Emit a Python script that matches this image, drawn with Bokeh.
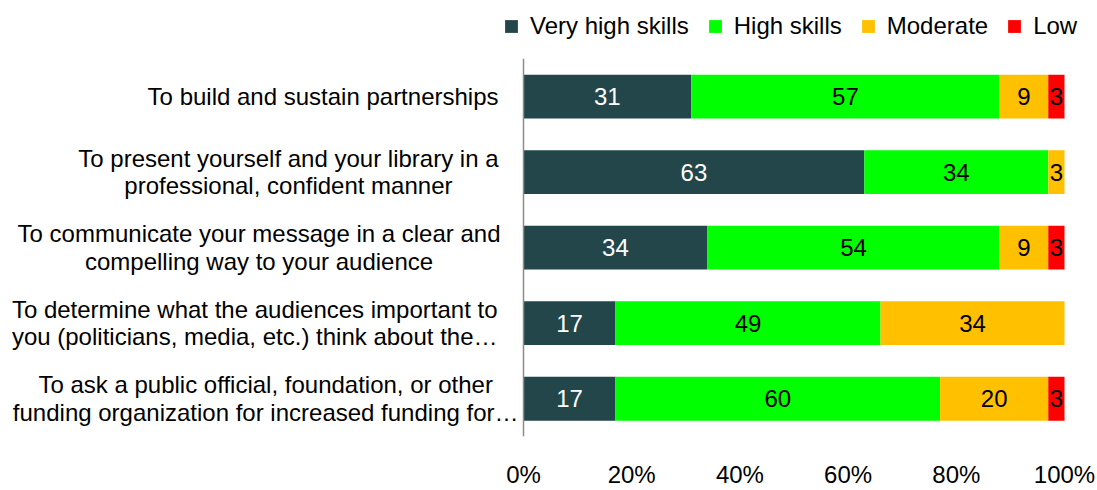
from bokeh.plotting import figure
from bokeh.models import ColumnDataSource, Range1d, FixedTicker, Label
from bokeh.core.properties import value
from bokeh.embed import file_html
from bokeh.resources import INLINE

# ---- data ----
categories = [
    "To build and sustain partnerships",
    "To present yourself and your library in a\nprofessional, confident manner",
    "To communicate your message in a clear and\ncompelling way to your audience",
    "To determine what the audiences important to\nyou (politicians, media, etc.) think about the\u2026",
    "To ask a public official, foundation, or other\nfunding organization for increased funding for\u2026",
]
series_names = ["Very high skills", "High skills", "Moderate", "Low"]
very_high = [31, 63, 34, 17, 17]
high = [57, 34, 54, 49, 60]
moderate = [9, 3, 9, 34, 20]
low = [3, 0, 3, 0, 3]
tick_values = [0, 20, 40, 60, 80, 100]
tick_labels = ["0%", "20%", "40%", "60%", "80%", "100%"]

# ---- styles / layout ----
colors = ["#22464A", "#00FF00", "#FFC000", "#FF0000"]
label_colors = ["#FFFFFF", "#000000", "#000000", "#000000"]
FONT = "Liberation Sans"
FS = "24px"
cat_align = ["center", "center", "center", "right", "center"]
cat_gap = [25, 25, 23, 26, 5]
W, H = 1097, 490
AXIS_PX = 523          # pixel position of the 0% line
BAR_PX = 541           # pixel length of 0..100%
TOP, BOTTOM = 59, 49   # space above / below the bar area
LEGEND_X, LEGEND_BOTTOM = 503, 45

n = len(categories)
ypos = [n - 1 - i for i in range(n)]  # first category at top
row_px = (H - TOP - BOTTOM) / n

keys = ["vh", "h", "m", "l"]
source = ColumnDataSource(dict(y=ypos, vh=very_high, h=high, m=moderate, l=low))

x_start = -100.0 * AXIS_PX / BAR_PX
x_end = 100.0 + 100.0 * (W - AXIS_PX - BAR_PX) / BAR_PX
y_end = n - 0.5 + TOP / row_px
p = figure(
    width=W, height=H,
    y_range=Range1d(-0.5, y_end),
    x_range=Range1d(x_start, x_end),
    y_axis_location=None,
    output_backend="svg", toolbar_location=None,
    min_border_left=0, min_border_right=0,
    min_border_top=0, min_border_bottom=BOTTOM,
)
p.outline_line_color = None
p.grid.visible = False
p.background_fill_color = "white"

p.hbar_stack(keys, y="y", height=0.58, color=colors, line_color=None,
             source=source, legend_label=series_names)

# vertical category axis line
p.segment(x0=[0], y0=[-0.5], x1=[0], y1=[n - 0.5], line_color="#8C8C8C", line_width=1.5)

# data labels
series = [very_high, high, moderate, low]
for si, vals in enumerate(series):
    xs, ys, ts = [], [], []
    for ci, v in enumerate(vals):
        if v <= 0:
            continue
        left = sum(series[k][ci] for k in range(si))
        xs.append(left + v / 2)
        ys.append(ypos[ci])
        ts.append(str(v))
    p.text(x=xs, y=ys, text=ts, text_align="center", text_baseline="middle",
           text_font=value(FONT), text_font_size=FS, text_color=label_colors[si])

# category labels
for ci, c in enumerate(categories):
    p.add_layout(Label(x=0, y=ypos[ci], text=c, x_offset=-cat_gap[ci], y_offset=0,
                       anchor="center_right", text_align=cat_align[ci],
                       text_baseline="middle", text_font=FONT, text_font_size=FS,
                       text_color="#000000", text_line_height=1.02))

# x axis
p.xaxis.ticker = FixedTicker(ticks=tick_values)
p.xaxis.major_label_overrides = {t: l for t, l in zip(tick_values, tick_labels)}
p.xaxis.axis_line_color = None
p.xaxis.major_tick_line_color = None
p.xaxis.minor_tick_line_color = None
p.xaxis.major_tick_out = 0
p.xaxis.major_tick_in = 0
p.xaxis.major_label_standoff = 24
p.xaxis.major_label_text_font = FONT
p.xaxis.major_label_text_font_size = FS
p.xaxis.major_label_text_color = "#000000"

# legend (location = bottom-left corner, measured from frame bottom-left)
lg = p.legend[0]
lg.orientation = "horizontal"
lg.location = (LEGEND_X, H - BOTTOM - LEGEND_BOTTOM)
lg.label_text_font = FONT
lg.label_text_font_size = FS
lg.label_text_color = "#000000"
lg.glyph_width = 16
lg.glyph_height = 16
lg.label_standoff = 11
lg.spacing = 18
lg.padding = 0
lg.margin = 0
lg.border_line_color = None
lg.background_fill_alpha = 0

open("out.html", "w").write(file_html(p, INLINE))
